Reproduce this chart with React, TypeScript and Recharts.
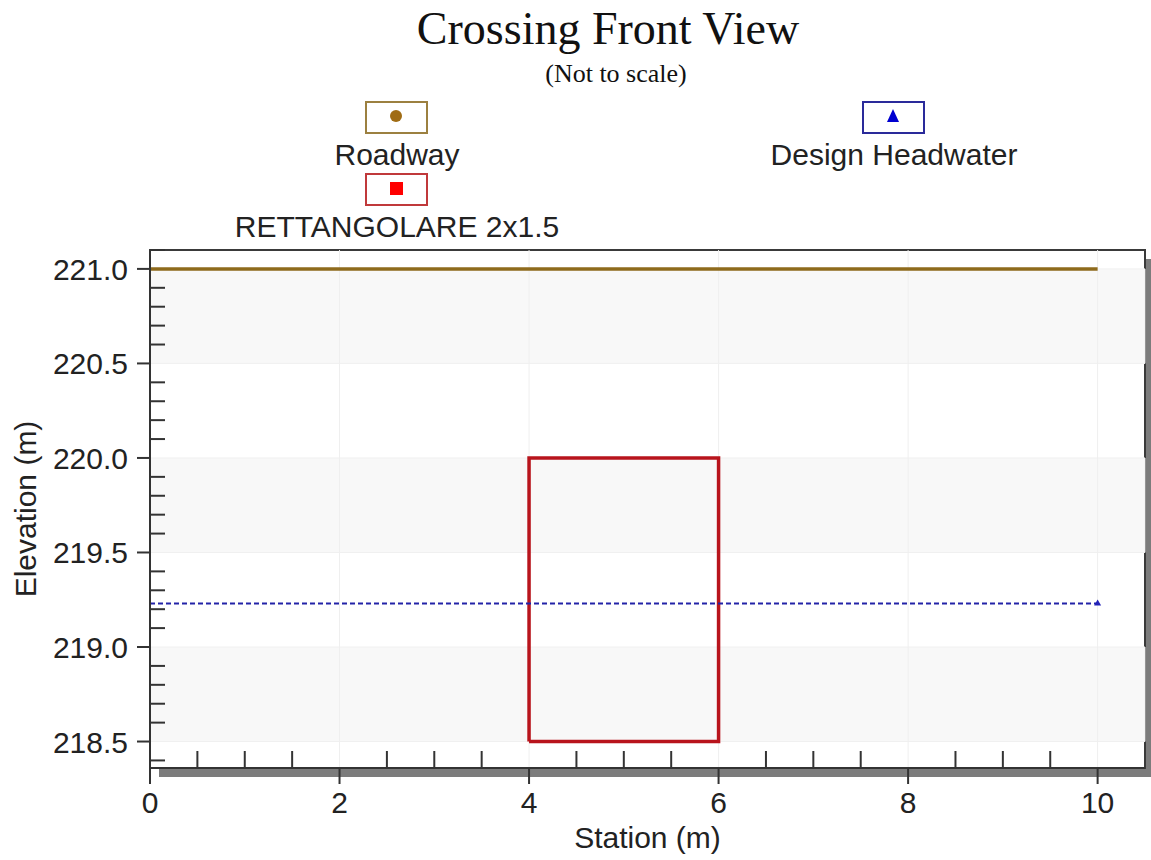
import React from 'react';
import { LineChart, Line, XAxis, YAxis, ReferenceArea, ReferenceLine, Legend } from 'recharts';

// series (station m / elevation m)
const ROADWAY_STATION = [0, 10];
const ROADWAY_ELEV = [221.0, 221.0];
const CULVERT_STATION = [4, 4, 6, 6, 4];
const CULVERT_ELEV = [218.5, 220.0, 220.0, 218.5, 218.5];
const HEADWATER_STATION = [0, 10];
const HEADWATER_ELEV = [219.23, 219.23];

// ticks
const X_MAJOR = [0, 2, 4, 6, 8, 10];
const X_MINOR = [0.5, 1, 1.5, 2.5, 3, 3.5, 4.5, 5, 5.5, 6.5, 7, 7.5, 8.5, 9, 9.5];
const Y_MAJOR = [218.5, 219.0, 219.5, 220.0, 220.5, 221.0];
const Y_MINOR = [
  218.4, 218.6, 218.7, 218.8, 218.9, 219.1, 219.2, 219.3, 219.4, 219.6, 219.7,
  219.8, 219.9, 220.1, 220.2, 220.3, 220.4, 220.6, 220.7, 220.8, 220.9, 221.1,
];
const SHADED_BANDS = [
  [218.5, 219.0],
  [219.5, 220.0],
  [220.5, 221.0],
];

const toPoints = (xs: number[], ys: number[]) => xs.map((x, i) => ({ x, y: ys[i] }));
const roadwayData = toPoints(ROADWAY_STATION, ROADWAY_ELEV);
const culvertData = toPoints(CULVERT_STATION, CULVERT_ELEV);
const headwaterData = toPoints(HEADWATER_STATION, HEADWATER_ELEV);

const SANS = '"Liberation Sans", Arial, sans-serif';
const SERIF = '"Liberation Serif", "Times New Roman", serif';
const INK = '#222';

const renderXTick = (props: any) => {
  const { x, y, payload } = props;
  const v = payload.value;
  if (X_MAJOR.includes(v)) {
    return (
      <g>
        <line x1={x} x2={x} y1={y} y2={y + 16} stroke="#333" strokeWidth={2} />
        <text x={x} y={y + 45} textAnchor="middle" fontSize={30} fill={INK}>{v}</text>
      </g>
    );
  }
  return <line x1={x} x2={x} y1={y} y2={y - 17} stroke="#333" strokeWidth={2} />;
};

const renderYTick = (props: any) => {
  const { x, y, payload } = props;
  const v = payload.value;
  if (Y_MAJOR.includes(v)) {
    return (
      <g>
        <line x1={x - 13} x2={x} y1={y} y2={y} stroke="#333" strokeWidth={2} />
        <text x={x - 22} y={y + 11} textAnchor="end" fontSize={30} fill={INK}>{v.toFixed(1)}</text>
      </g>
    );
  }
  return <line x1={x} x2={x + 15} y1={y} y2={y} stroke="#333" strokeWidth={2} />;
};

// plot frame with the grey drop shadow
const Frame = (props: any) => {
  const { x, y, width, height } = props;
  return (
    <g>
      <rect x={x + 9} y={y + 9} width={width} height={height} fill="#7c7c7c" />
      <rect x={x} y={y} width={width} height={height} fill="#fff" stroke="#3a3a3a" strokeWidth={2} />
    </g>
  );
};

const headwaterDot = (props: any) => {
  const { cx, cy, index } = props;
  if (index !== HEADWATER_STATION.length - 1) return <g key={index} />;
  return <path key={index} d={`M${cx},${cy - 4} L${cx + 3.5},${cy + 2} L${cx - 3.5},${cy + 2} Z`} fill="#2323b8" />;
};

const LEGEND_SLOTS: Record<string, { cx: number; top: number; border: string }> = {
  Roadway: { cx: 397, top: 101, border: '#9c8040' },
  'RETTANGOLARE 2x1.5': { cx: 397, top: 173, border: '#c0393b' },
  'Design Headwater': { cx: 894, top: 101, border: '#2a2a9a' },
};

const LegendIcon = ({ name }: { name: string }) => {
  if (name === 'Roadway') return <circle cx={31} cy={15} r={6} fill="#a06c14" />;
  if (name === 'Design Headwater') return <path d="M31,8 L37,21 L25,21 Z" fill="#0000d0" />;
  return <rect x={25} y={9} width={13} height={13} fill="#ff0000" />;
};

const renderLegend = (props: any) => {
  const { payload } = props;
  return (
    <div style={{ position: 'relative', width: 1151, height: 250, fontFamily: SANS }}>
      {payload.map((item: any) => {
        const slot = LEGEND_SLOTS[item.value];
        if (!slot) return null;
        return (
          <React.Fragment key={item.value}>
            <svg
              width={63}
              height={33}
              style={{ position: 'absolute', left: slot.cx - 32, top: slot.top }}
            >
              <rect x={1} y={1} width={61} height={31} fill="#fff" stroke={slot.border} strokeWidth={2} />
              <LegendIcon name={item.value} />
            </svg>
            <div
              style={{
                position: 'absolute',
                left: slot.cx,
                top: slot.top + 39,
                transform: 'translateX(-50%)',
                whiteSpace: 'nowrap',
                fontSize: 30,
                lineHeight: '30px',
                color: INK,
              }}
            >
              {item.value}
            </div>
          </React.Fragment>
        );
      })}
    </div>
  );
};

const renderYLabel = (props: any) => {
  const { x, y, height } = props.viewBox;
  const cx = x + 25;
  const cy = y + height / 2;
  return (
    <text
      x={cx}
      y={cy}
      transform={`rotate(-90, ${cx}, ${cy})`}
      textAnchor="middle"
      dominantBaseline="central"
      fontSize={30}
      fill={INK}
    >
      Elevation (m)
    </text>
  );
};

export default function App() {
  return (
    <div
      style={{
        position: 'absolute',
        left: 0,
        top: 0,
        width: 1151,
        height: 860,
        background: '#fff',
        fontFamily: SANS,
        overflow: 'hidden',
      }}
    >
      <div
        style={{
          position: 'absolute',
          left: 608,
          top: 6,
          transform: 'translateX(-50%)',
          fontFamily: SERIF,
          fontSize: 46,
          lineHeight: '46px',
          whiteSpace: 'nowrap',
          color: '#111',
        }}
      >
        Crossing Front View
      </div>
      <div
        style={{
          position: 'absolute',
          left: 616,
          top: 61,
          transform: 'translateX(-50%)',
          fontFamily: SERIF,
          fontSize: 26,
          lineHeight: '26px',
          whiteSpace: 'nowrap',
          color: '#111',
        }}
      >
        (Not to scale)
      </div>

      <LineChart width={1151} height={860} margin={{ top: 250, right: 6, bottom: 0, left: 0 }}>
        <XAxis
          type="number"
          dataKey="x"
          domain={[0, 10.5]}
          allowDataOverflow
          ticks={[...X_MAJOR, ...X_MINOR]}
          interval={0}
          tickSize={0}
          tickMargin={0}
          tickLine={false}
          tick={renderXTick}
          height={92}
          axisLine={{ stroke: '#333', strokeWidth: 2 }}
          label={{ value: 'Station (m)', position: 'insideBottom', offset: 12, fontSize: 30, fill: INK }}
        />
        <YAxis
          type="number"
          dataKey="y"
          domain={[218.36, 221.1]}
          allowDataOverflow
          ticks={[...Y_MAJOR, ...Y_MINOR]}
          interval={0}
          tickSize={0}
          tickMargin={0}
          tickLine={false}
          tick={renderYTick}
          width={150}
          axisLine={{ stroke: '#333', strokeWidth: 2 }}
          label={renderYLabel}
        />
        <ReferenceArea shape={Frame} ifOverflow="visible" />
        {SHADED_BANDS.map(([lo, hi]) => (
          <ReferenceArea key={lo} y1={lo} y2={hi} fill="#f8f8f8" fillOpacity={1} stroke="#f0f0f0" strokeWidth={1} />
        ))}
        {X_MAJOR.slice(1).map((v) => (
          <ReferenceLine key={v} x={v} stroke="#efefef" strokeWidth={1} />
        ))}
        <Legend
          layout="horizontal"
          verticalAlign="middle"
          content={renderLegend}
          wrapperStyle={{ position: 'absolute', left: 0, top: 0, width: 1151, height: 250 }}
        />
        <Line
          data={roadwayData}
          dataKey="y"
          name="Roadway"
          stroke="#8e6a1c"
          strokeWidth={3.5}
          dot={false}
          isAnimationActive={false}
        />
        <Line
          data={culvertData}
          dataKey="y"
          name="RETTANGOLARE 2x1.5"
          stroke="#b8141c"
          strokeWidth={3.5}
          strokeLinejoin="miter"
          dot={false}
          isAnimationActive={false}
        />
        <Line
          data={headwaterData}
          dataKey="y"
          name="Design Headwater"
          stroke="#2323a8"
          strokeWidth={2}
          strokeDasharray="5 3"
          dot={headwaterDot}
          isAnimationActive={false}
        />
      </LineChart>
    </div>
  );
}
